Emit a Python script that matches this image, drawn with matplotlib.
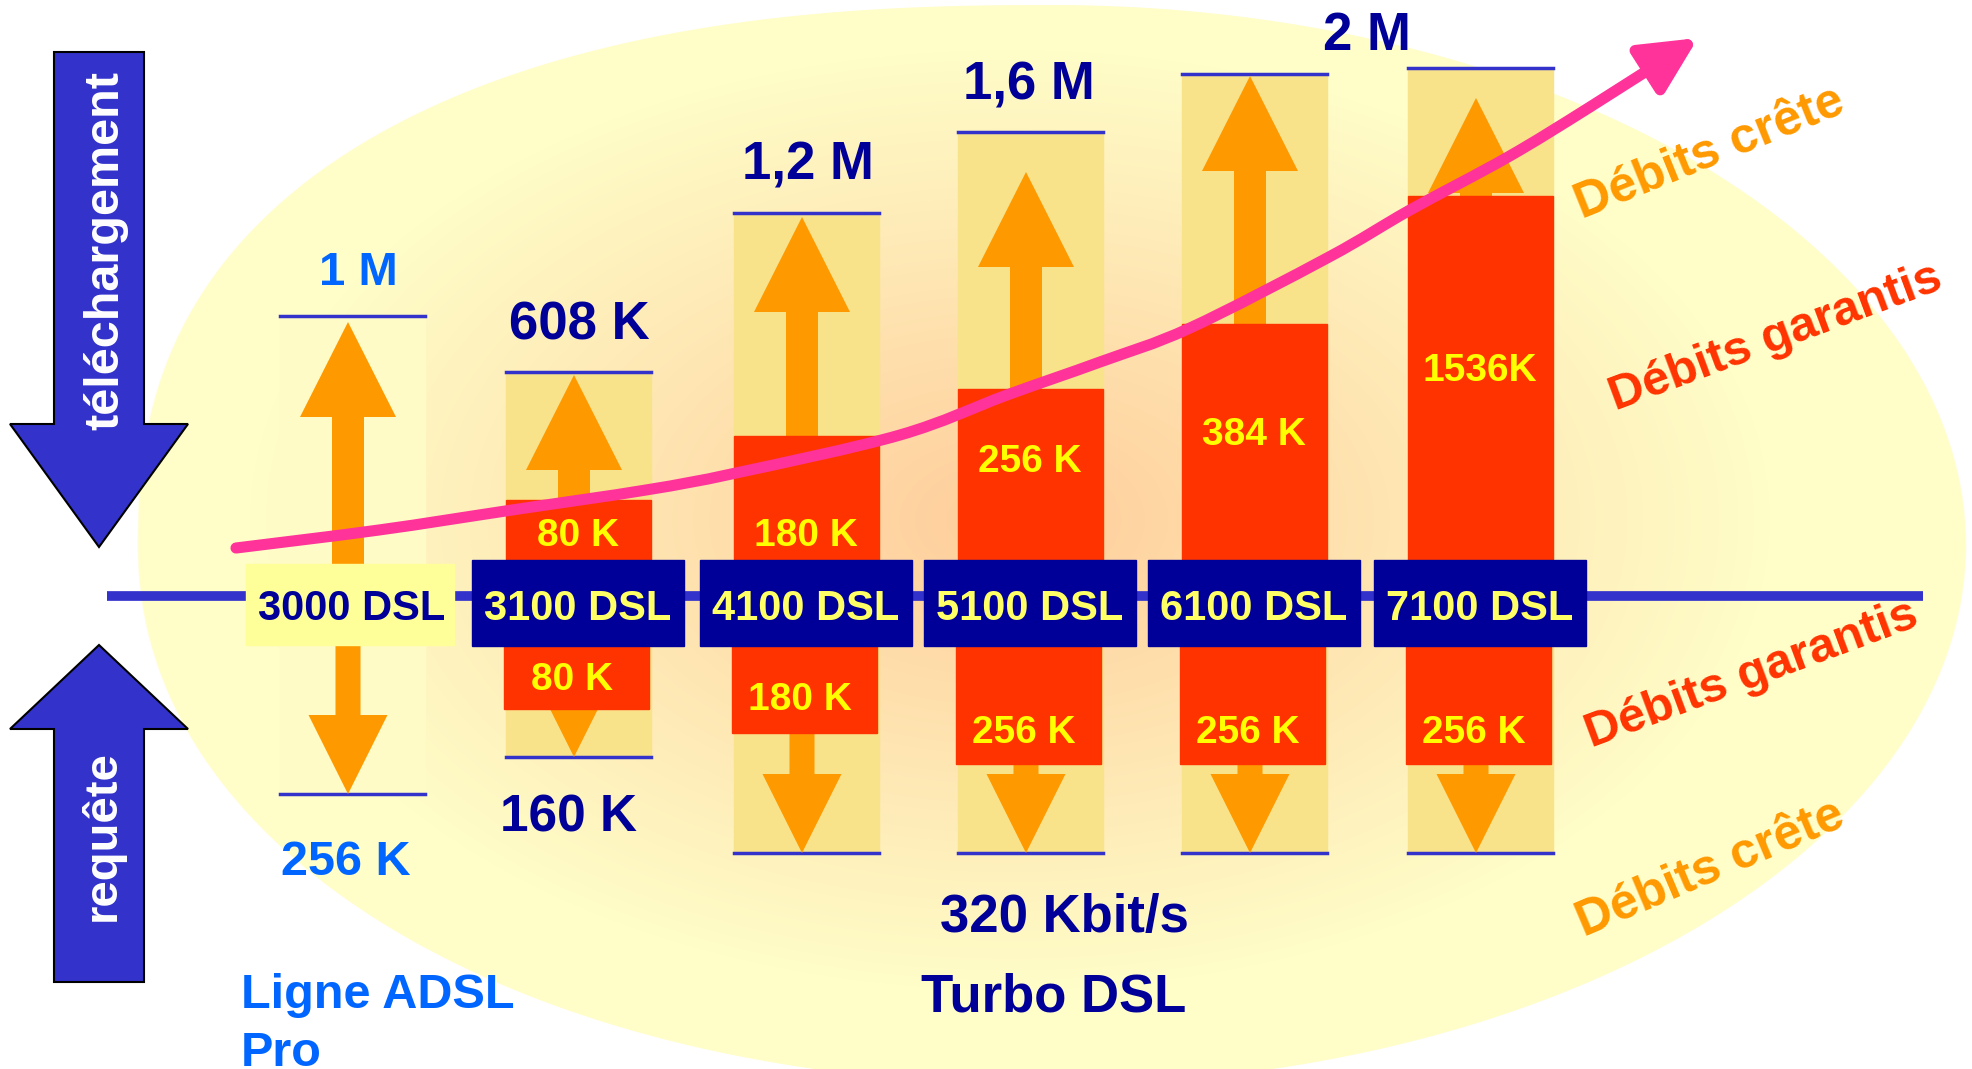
import numpy as np
import matplotlib
matplotlib.use('Agg')
import matplotlib.pyplot as plt
from matplotlib.patches import Rectangle, FancyArrow, FancyArrowPatch
from matplotlib.path import Path

plt.rcParams['font.family'] = ['Liberation Sans', 'DejaVu Sans']
plt.rcParams['font.weight'] = 'bold'

# data (heights in picture pixels above / below the axis line)
models = ['3000 DSL', '3100 DSL', '4100 DSL', '5100 DSL', '6100 DSL', '7100 DSL']
peak_up_h = [280, 224, 383, 464, 522, 528]
peak_down_h = [198, 161, 257, 257, 257, 257]
guar_up = ['', '80 K', '180 K', '256 K', '384 K', '1536K']
guar_up_h = [0, 96, 160, 207, 272, 400]
guar_down = ['', '80 K', '180 K', '256 K', '256 K', '256 K']
guar_down_h = [0, 113, 137, 168, 168, 168]
arrow_gap = [6, 3, 4, 40, 2, 30]
top_labels = ['1 M', '608 K', '1,2 M', '1,6 M', '2 M']
bottom_labels = ['256 K', '160 K', '320 Kbit/s']
trend_x = [236, 379, 512, 646, 736, 900, 1007, 1100, 1190, 1329, 1410, 1508, 1590, 1698]
trend_y = [548, 530, 510, 490, 473, 435, 395, 362, 328, 257, 210, 157, 107, 38]

# layout
W, H = 1972, 1069
axis_y = 596
col_x = [352, 578, 806, 1030, 1254, 1480]
col_w = 145
box_w, box_h = 212, 86
navy = '#000099'
blue = '#3333CC'
light_blue = '#0066FF'
red = '#FF3300'
orange = '#FF9900'
col_bg = '#F8E28A'

fig = plt.figure(figsize=(W / 100, H / 100), dpi=100)
ax = fig.add_axes([0, 0, 1, 1])
ax.set_xlim(0, W)
ax.set_ylim(H, 0)
ax.axis('off')

# big egg-shaped ellipse with a peach -> pale yellow gradient
yy, xx = np.mgrid[0:H, 0:W] + 0.5
cx, cy, ea, eb = 1052, 545, 914, 540
n = np.where(xx < cx, np.where(yy < cy, 2.4, 2.08), 2.0)
f = np.abs((xx - cx) / ea) ** n + np.abs((yy - cy) / eb) ** n
r = f ** (1 / n)
alpha = np.clip((1 - r) * 560 + 0.5, 0, 1)
t = np.clip(np.sqrt(((xx - 1010) / 760) ** 2 + ((yy - 520) / 470) ** 2), 0, 1)
c0 = np.array([254, 205, 155]) / 255
c1 = np.array([255, 253, 200]) / 255
img = np.zeros((H, W, 4))
for k in range(3):
    img[..., k] = c0[k] * (1 - t) + c1[k] * t
img[..., 3] = alpha
ax.imshow(img, extent=(0, W, H, 0), interpolation='bilinear', zorder=0)

# axis line
ax.plot([107, 1923], [axis_y, axis_y], color=blue, lw=7, solid_capstyle='butt', zorder=2)

for i, name in enumerate(models):
    x = col_x[i]
    top = axis_y - peak_up_h[i]
    bot = axis_y + peak_down_h[i]
    bg = '#FFFBC6' if i == 0 else col_bg
    ax.add_patch(Rectangle((x - col_w / 2, top), col_w, bot - top, color=bg, zorder=1))
    ax.plot([x - col_w / 2, x + col_w / 2], [top, top], color=blue, lw=2.5, zorder=2)
    ax.plot([x - col_w / 2, x + col_w / 2], [bot, bot], color=blue, lw=2.5, zorder=2)

    arr_x = x - 4
    tip_up = top + arrow_gap[i]
    ax.add_patch(FancyArrow(arr_x, axis_y, 0, tip_up - axis_y, width=32, head_width=96,
                            head_length=95, length_includes_head=True, color=orange, lw=0, zorder=3))
    ax.add_patch(FancyArrow(arr_x, axis_y, 0, bot - axis_y, width=25, head_width=79,
                            head_length=79, length_includes_head=True, color=orange, lw=0, zorder=3))

    if guar_up_h[i]:
        ax.add_patch(Rectangle((x - col_w / 2, axis_y - guar_up_h[i]), col_w, guar_up_h[i],
                               color=red, zorder=4))
        ax.add_patch(Rectangle((x - col_w / 2 - 2, axis_y), col_w, guar_down_h[i],
                               color=red, zorder=4))

    if i == 0:
        ax.add_patch(Rectangle((x - box_w / 2, axis_y - 32), box_w - 4, 81, color='#FFFF99', zorder=6))
        ax.text(x, 620, name, color=navy, fontsize=30, ha='center', va='baseline', zorder=7)
    else:
        ax.add_patch(Rectangle((x - box_w / 2, axis_y - 36), box_w, box_h, color=navy, zorder=6))
        ax.text(x, 620, name, color='#FFFF66', fontsize=30, ha='center', va='baseline', zorder=7)

# guaranteed rate labels inside red boxes (baselines)
up_lbl_y = [0, 546, 546, 472, 445, 381]
down_lbl_y = [0, 690, 710, 743, 743, 743]
for i in range(1, len(models)):
    ax.text(col_x[i], up_lbl_y[i], guar_up[i], color='#FFFF00', fontsize=28,
            ha='center', va='baseline', zorder=7)
    ax.text(col_x[i] - 6, down_lbl_y[i], guar_down[i], color='#FFFF00', fontsize=28,
            ha='center', va='baseline', zorder=7)

# trend arrow, smooth curve through the read points
pts = np.column_stack([trend_x, trend_y]).astype(float)
ext = np.vstack([pts[0], pts, pts[-1]])
verts = [pts[0]]
codes = [Path.MOVETO]
for j in range(1, len(ext) - 2):
    p0, p1, p2, p3 = ext[j - 1], ext[j], ext[j + 1], ext[j + 2]
    verts += [p1 + (p2 - p0) / 6, p2 - (p3 - p1) / 6, p2]
    codes += [Path.CURVE4] * 3
trend = FancyArrowPatch(path=Path(verts, codes),
                        arrowstyle='-|>,head_length=0.85,head_width=0.42',
                        mutation_scale=40, color='#FF3399', lw=8, zorder=5)
ax.add_patch(trend)

# peak rate labels (baselines)
top_pos = [(358, 285), (579, 340), (808, 179), (1029, 100), (1367, 50)]
for lbl, (px, py) in zip(top_labels, top_pos):
    ax.text(px, py, lbl, color=light_blue if lbl == '1 M' else navy,
            fontsize=34 if lbl == '1 M' else 38, ha='center', va='baseline', zorder=7)
ax.text(346, 875, bottom_labels[0], color=light_blue, fontsize=35, ha='center', va='baseline')
ax.text(568, 832, bottom_labels[1], color=navy, fontsize=37, ha='center', va='baseline')
ax.text(1064, 932, bottom_labels[2], color=navy, fontsize=38, ha='center', va='baseline')
ax.text(1054, 1011, 'Turbo DSL', color=navy, fontsize=38, ha='center', va='baseline')
ax.text(241, 1008, 'Ligne ADSL', color=light_blue, fontsize=35, ha='left', va='baseline')
ax.text(241, 1066, 'Pro', color=light_blue, fontsize=35, ha='left', va='baseline')

# rotated side labels
ax.text(1710, 153, 'Débits crête', color=orange, fontsize=36, rotation=22,
        ha='center', va='center', rotation_mode='anchor')
ax.text(1776, 338, 'Débits garantis', color=red, fontsize=35, rotation=20.4,
        ha='center', va='center', rotation_mode='anchor')
ax.text(1752, 675, 'Débits garantis', color=red, fontsize=35, rotation=20.4,
        ha='center', va='center', rotation_mode='anchor')
ax.text(1711, 869, 'Débits crête', color=orange, fontsize=36, rotation=23,
        ha='center', va='center', rotation_mode='anchor')

# direction arrows on the left
ax.add_patch(FancyArrow(99, 52, 0, 495, width=90, head_width=178, head_length=123,
                        length_includes_head=True, facecolor=blue, edgecolor='black', lw=1.5, zorder=3))
ax.add_patch(FancyArrow(99, 982, 0, -337, width=90, head_width=178, head_length=84,
                        length_includes_head=True, facecolor=blue, edgecolor='black', lw=1.5, zorder=3))
ax.text(106, 250, 'téléchargement', color='white', fontsize=35, rotation=90,
        ha='center', va='center', zorder=4)
ax.text(102, 836, 'requête', color='white', fontsize=34, rotation=90,
        ha='center', va='center', zorder=4)

fig.savefig('out.png', dpi=100)
